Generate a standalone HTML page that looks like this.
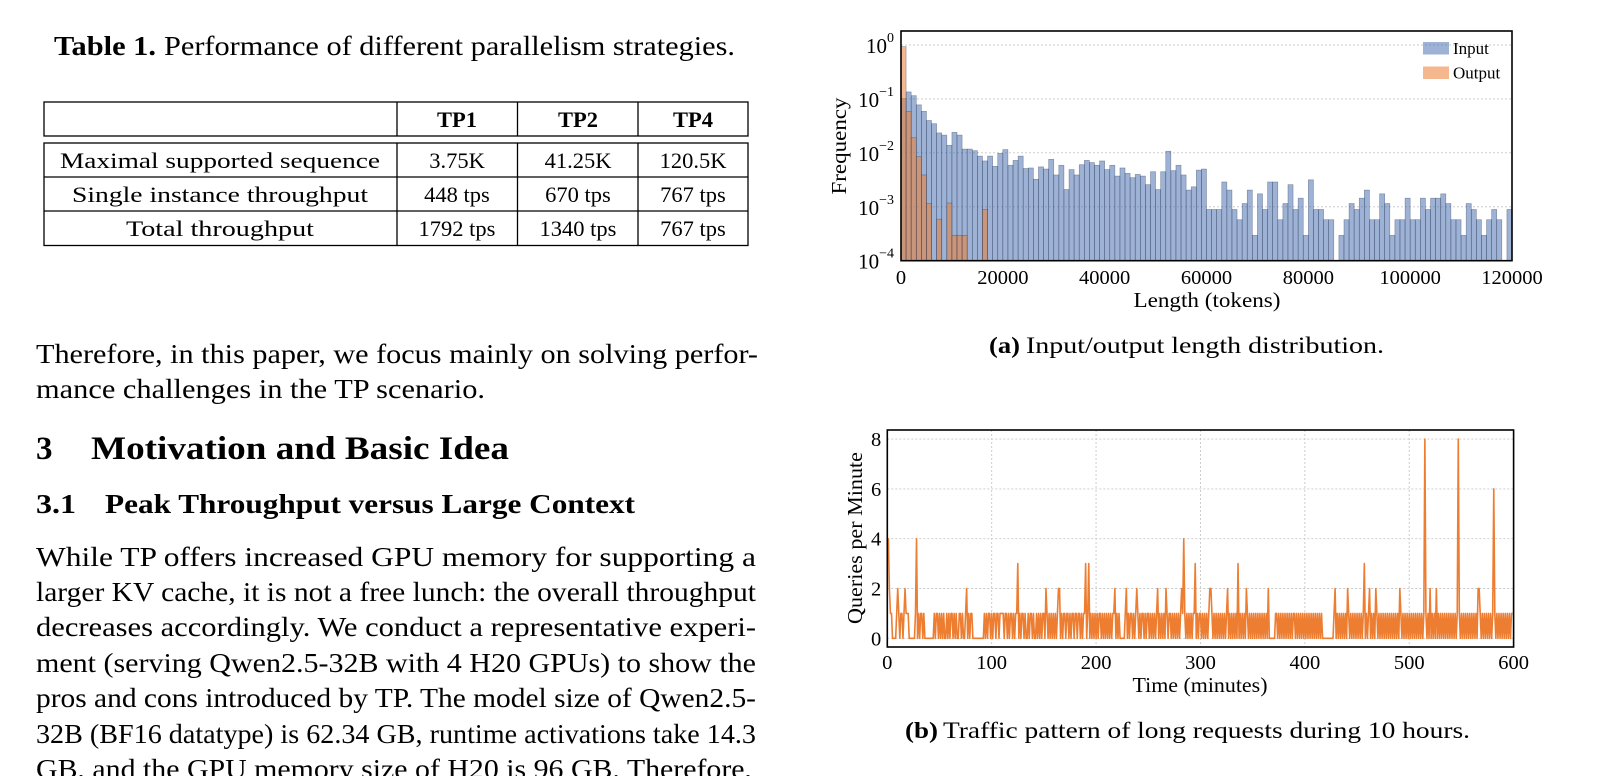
<!DOCTYPE html>
<html><head><meta charset="utf-8"><style>
html,body{margin:0;padding:0;background:#fff;}
svg{display:block;font-family:"Liberation Serif",serif;}
</style></head><body>
<svg id="page" width="1604" height="776" viewBox="0 0 1604 776" xmlns="http://www.w3.org/2000/svg">
<g font-size="27">
<text x="54" y="55" font-weight="bold" textLength="102" lengthAdjust="spacingAndGlyphs">Table 1.</text>
<text x="164" y="55" textLength="571" lengthAdjust="spacingAndGlyphs">Performance of different parallelism strategies.</text>
</g>
<g stroke="#000" stroke-width="1.3" fill="none">
<rect x="44" y="102" width="704" height="34"/>
<rect x="44" y="143" width="704" height="102.5"/>
<line x1="397" y1="102" x2="397" y2="136"/><line x1="517.5" y1="102" x2="517.5" y2="136"/><line x1="638" y1="102" x2="638" y2="136"/>
<line x1="397" y1="143" x2="397" y2="245.5"/><line x1="517.5" y1="143" x2="517.5" y2="245.5"/><line x1="638" y1="143" x2="638" y2="245.5"/>
<line x1="44" y1="177" x2="748" y2="177"/><line x1="44" y1="211" x2="748" y2="211"/>
</g>
<g font-size="22.5" text-anchor="middle">
<text x="457" y="127" font-weight="bold">TP1</text><text x="578" y="127" font-weight="bold">TP2</text><text x="693" y="127" font-weight="bold">TP4</text>
<text x="220" y="168" textLength="320" lengthAdjust="spacingAndGlyphs">Maximal supported sequence</text><text x="457" y="168">3.75K</text><text x="578" y="168">41.25K</text><text x="693" y="168">120.5K</text>
<text x="220" y="202" textLength="296" lengthAdjust="spacingAndGlyphs">Single instance throughput</text><text x="457" y="202">448 tps</text><text x="578" y="202">670 tps</text><text x="693" y="202">767 tps</text>
<text x="220" y="236" textLength="188" lengthAdjust="spacingAndGlyphs">Total throughput</text><text x="457" y="236">1792 tps</text><text x="578" y="236">1340 tps</text><text x="693" y="236">767 tps</text>
</g>
<g font-size="27">
<text x="36" y="363" textLength="722" lengthAdjust="spacingAndGlyphs">Therefore, in this paper, we focus mainly on solving perfor-</text>
<text x="36" y="398" textLength="449" lengthAdjust="spacingAndGlyphs">mance challenges in the TP scenario.</text>
<text x="36" y="459" font-size="33" font-weight="bold">3</text>
<text x="91" y="459" font-size="33" font-weight="bold" textLength="418" lengthAdjust="spacingAndGlyphs">Motivation and Basic Idea</text>
<text x="36" y="513" font-weight="bold" textLength="40" lengthAdjust="spacingAndGlyphs">3.1</text>
<text x="105" y="513" font-weight="bold" textLength="530" lengthAdjust="spacingAndGlyphs">Peak Throughput versus Large Context</text>
<text x="36" y="566" textLength="720" lengthAdjust="spacingAndGlyphs">While TP offers increased GPU memory for supporting a</text>
<text x="36" y="601" textLength="720" lengthAdjust="spacingAndGlyphs">larger KV cache, it is not a free lunch: the overall throughput</text>
<text x="36" y="636" textLength="720" lengthAdjust="spacingAndGlyphs">decreases accordingly. We conduct a representative experi-</text>
<text x="36" y="672" textLength="720" lengthAdjust="spacingAndGlyphs">ment (serving Qwen2.5-32B with 4 H20 GPUs) to show the</text>
<text x="36" y="707" textLength="720" lengthAdjust="spacingAndGlyphs">pros and cons introduced by TP. The model size of Qwen2.5-</text>
<text x="36" y="743" textLength="720" lengthAdjust="spacingAndGlyphs">32B (BF16 datatype) is 62.34 GB, runtime activations take 14.3</text>
<text x="36" y="778" textLength="716" lengthAdjust="spacingAndGlyphs">GB, and the GPU memory size of H20 is 96 GB. Therefore,</text>
</g>
<g font-size="23">
<text x="989" y="353" font-weight="bold" textLength="31" lengthAdjust="spacingAndGlyphs">(a)</text>
<text x="1026" y="353" textLength="358" lengthAdjust="spacingAndGlyphs">Input/output length distribution.</text>
</g>
<g font-size="23">
<text x="905" y="738" font-weight="bold" textLength="33" lengthAdjust="spacingAndGlyphs">(b)</text>
<text x="943" y="738" textLength="527" lengthAdjust="spacingAndGlyphs">Traffic pattern of long requests during 10 hours.</text>
</g>
<g id="hist"></g>
<g id="line"></g>
</svg>
<script>
// ---- histogram data (log10 frequency per 1000-token bin; null = empty) ----
const histBinWidth = 1000;
const inputLog = [-0.99,-0.87,-0.94,-1.11,-1.23,-1.40,-1.46,-1.63,-1.67,-1.86,
-1.62,-1.67,-1.93,-1.93,-1.96,-2.06,-2.15,-2.06,-2.25,-2.01,
-1.94,-2.23,-2.14,-2.06,-2.29,-2.28,-2.49,-2.26,-2.30,-2.12,
-2.41,-2.23,-2.68,-2.31,-2.41,-2.22,-2.14,-2.18,-2.23,-2.15,
-2.31,-2.23,-2.43,-2.28,-2.38,-2.46,-2.40,-2.43,-2.59,-2.35,
-2.68,-2.35,-1.97,-2.33,-2.23,-2.41,-2.69,-2.63,-2.32,-2.30,
-3.05,-3.05,-3.05,-2.54,-2.69,-3.05,-3.24,-2.94,-2.69,-3.53,
-2.76,-3.05,-2.54,-2.54,-3.24,-2.94,-2.59,-3.05,-2.84,-3.53,
-2.50,-3.05,-3.05,-3.24,-3.24,null,-3.53,-3.24,-2.94,-3.05,
-2.84,-2.69,-3.24,-3.24,-2.76,-2.94,-3.53,-3.24,-3.24,-2.84,
-3.24,-3.24,-2.84,-3.05,-2.84,-2.84,-2.76,-2.94,-3.24,-3.24,
-3.53,-2.94,-3.05,-3.24,-3.53,-3.24,-3.05,-3.24,null,-3.05];
const outputLog = [-0.03,-1.23,-1.72,-2.07,-2.41,-2.94,null,-3.23,null,-2.93,-3.53,-3.53,-3.53,null,null,null,-3.05];
const xTicks = [0,20000,40000,60000,80000,100000,120000];
const yExps = [0,-1,-2,-3,-4];
const legendLabels = ["Input","Output"];

// ---- traffic data: queries per minute, one digit per minute ----
const qpmDigits =
"4421100001"+"2101101211"+"1000000140"+"1011010000"+"0000010110"+
"1010100101"+"0110101001"+"1010012010"+"1100000000"+"0001010110"+
"1011011011"+"1101101011"+"0101130101"+"1010010110"+"1001010101"+
"1021010101"+"0101220101"+"1011010110"+"1101101011"+"3013010101"+
"0101101010"+"1010101120"+"1010000012"+"0101101012"+"1010110101"+
"1010101012"+"0101010210"+"1101010101"+"0121410101"+"0101130101"+
"1010101012"+"2101010101"+"0101012010"+"1010103010"+"1010210101"+
"0101010101"+"0101020000"+"0011010101"+"0101010101"+"1010101010"+
"1010101010"+"1010101000"+"0000000012"+"0101010101"+"0210101010"+
"1010101301"+"0120101021"+"0101010101"+"0101010101"+"0210101010"+
"1010101010"+"1010181010"+"2010102010"+"1010101010"+"1010101810"+
"1010101010"+"1010102210"+"1010101010"+"1610101010"+"1010101011";
const qpm = qpmDigits.split('').map(Number);
const tTicks = [0,100,200,300,400,500,600];
const qTicks = [0,2,4,6,8];

const NS = "http://www.w3.org/2000/svg";
function mk(tag, attrs, parent){
  const e = document.createElementNS(NS, tag);
  for (const k in attrs) e.setAttribute(k, attrs[k]);
  parent.appendChild(e);
  return e;
}

// ===== Histogram =====
(function(){
  const g = document.getElementById('hist');
  const L=901, R=1512, T=31, B=260.7;
  const xs = v => L + (v/120000)*(R-L);
  const ys = lg => 45 + (-lg)*((B-45)/4);
  yExps.forEach(e=>{
    if (e>-4){
      const gl = mk('line',{x1:L,x2:R,y1:ys(e),y2:ys(e),stroke:'#c8c8c8','stroke-width':0.9,'stroke-dasharray':'2,2'},g);
      
      
    }
    const t = mk('text',{x:L-7,y:ys(e)+8,'text-anchor':'end','font-size':21},g);
    
    
    t.appendChild(document.createTextNode('10'));
    const s = mk('tspan',{dy:-11,'font-size':14},t);
    s.textContent = e===0 ? '0' : '\u2212'+(-e);
  });
  function drawSeries(arr, fill, name){
    arr.forEach((v,i)=>{
      if (v===null) return;
      const x0 = xs(i*histBinWidth), x1 = xs((i+1)*histBinWidth);
      const r = mk('rect',{x:x0,y:ys(v),width:x1-x0,height:B-ys(v),fill:fill,'fill-opacity':0.55,stroke:'#1c2a4a','stroke-opacity':0.45,'stroke-width':0.6},g);
      
      
    });
  }
  drawSeries(inputLog,'#4c72b0','input-bar');
  drawSeries(outputLog,'#ed7d31','output-bar');
  const box = mk('rect',{x:L,y:T,width:R-L,height:B-T,fill:'none',stroke:'#000','stroke-width':1.6},g);
  
  
  xTicks.forEach(v=>{
    const t = mk('text',{x:xs(v),y:284,'text-anchor':'middle','font-size':20.5},g);
    
    
    t.textContent = String(v);
  });
  const xt = mk('text',{x:1207,y:307,'text-anchor':'middle','font-size':21,textLength:147,lengthAdjust:'spacingAndGlyphs'},g);
  
  
  xt.textContent='Length (tokens)';
  const yt = mk('text',{x:0,y:0,'text-anchor':'middle','font-size':21,textLength:97,lengthAdjust:'spacingAndGlyphs',transform:'translate(846,146) rotate(-90)'},g);
  
  
  yt.textContent='Frequency';
  const cols = ['#4c72b0','#ed7d31'];
  legendLabels.forEach((lab,i)=>{
    const p = mk('rect',{x:1423,y:42+i*24.5,width:26,height:12.5,fill:cols[i],'fill-opacity':0.55},g);
    
    
    const t = mk('text',{x:1453,y:54+i*24.5,'font-size':17},g);
    
    
    t.textContent = lab;
  });
})();

// ===== Line chart =====
(function(){
  const g = document.getElementById('line');
  const L=887.3, R=1513.6, T=430, B=647;
  const xs = m => L + (m/600)*(R-L);
  const ys = q => 638.3 - q*24.9;
  tTicks.forEach(v=>{
    if (v>0 && v<600){
      const gl = mk('line',{x1:xs(v),x2:xs(v),y1:T,y2:B,stroke:'#c8c8c8','stroke-width':0.9,'stroke-dasharray':'2,2'},g);
      
      
    }
    const t = mk('text',{x:xs(v),y:669,'text-anchor':'middle','font-size':20.5},g);
    
    
    t.textContent=String(v);
  });
  qTicks.forEach(v=>{
    const gl = mk('line',{x1:L,x2:R,y1:ys(v),y2:ys(v),stroke:'#c8c8c8','stroke-width':0.9,'stroke-dasharray':'2,2'},g);
    
    
    const t = mk('text',{x:L-6,y:ys(v)+7,'text-anchor':'end','font-size':20.5},g);
    
    
    t.textContent=String(v);
  });
  const pts = qpm.map((q,i)=>xs(i).toFixed(2)+','+ys(q).toFixed(2)).join(' ');
  const pl = mk('polyline',{points:pts,fill:'none',stroke:'#ed7d31','stroke-width':1.6,'stroke-linejoin':'round'},g);
  
  
  const box = mk('rect',{x:L,y:T,width:R-L,height:B-T,fill:'none',stroke:'#000','stroke-width':1.6},g);
  
  
  const xt = mk('text',{x:1200,y:692,'text-anchor':'middle','font-size':21,textLength:135,lengthAdjust:'spacingAndGlyphs'},g);
  
  
  xt.textContent='Time (minutes)';
  const yt = mk('text',{x:0,y:0,'text-anchor':'middle','font-size':21,textLength:172,lengthAdjust:'spacingAndGlyphs',transform:'translate(862,538) rotate(-90)'},g);
  
  
  yt.textContent='Queries per Minute';
})();
</script>
</body></html>
